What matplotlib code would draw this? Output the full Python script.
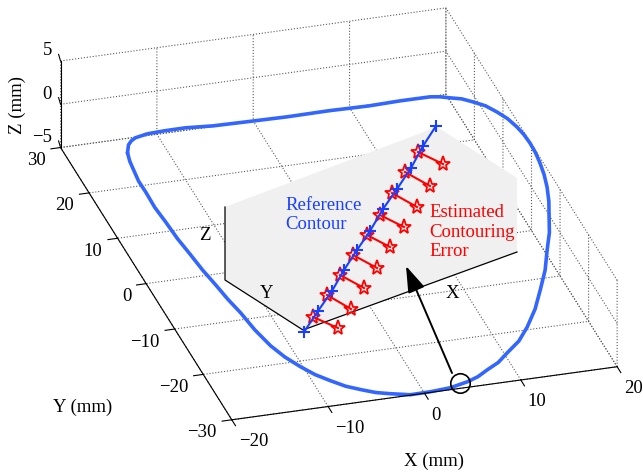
import numpy as np
import matplotlib
matplotlib.use("Agg")
import matplotlib.pyplot as plt
from mpl_toolkits.mplot3d import proj3d

plt.rcParams['font.family'] = ['Liberation Serif', 'DejaVu Serif']
plt.rcParams['grid.linestyle'] = ':'
plt.rcParams['grid.color'] = '#5a5a5a'
plt.rcParams['grid.linewidth'] = 0.8

# ---------------- data ----------------
# 3-D reference contour (mm)
curve_x = [-16.47, -15.94, -15.47, -14.96, -13.68, -11.98, -9.90, -7.22, -3.93, 0.12,
           4.24, 8.29, 11.42, 14.39, 15.27, 16.08, 17.03, 17.82, 18.65, 19.25,
           19.73, 20.00, 20.10, 20.07, 19.94, 19.67, 19.36, 18.90, 18.36, 17.67,
           16.91, 15.90, 14.77, 13.36, 12.25, 10.94, 10.20, 9.30, 8.13, 6.90,
           5.71, 4.53, 2.71, 0.66, -1.43, -3.27, -4.64, -5.90, -7.30, -8.53,
           -9.79, -10.87, -11.93, -12.78, -13.51, -14.03, -14.62, -15.10, -15.61, -16.00,
           -16.41, -16.67, -16.91, -16.93, -17.01, -16.86, -16.74]
curve_y = [18.46, 19.88, 20.45, 20.76, 20.88, 20.66, 20.33, 19.60, 19.14, 18.49,
           18.03, 17.37, 17.08, 16.62, 16.08, 15.33, 14.45, 13.17, 11.59, 9.58,
           7.49, 5.10, 3.00, 0.78, -1.62, -4.09, -6.60, -9.16, -11.61, -14.02,
           -16.70, -19.31, -22.43, -25.47, -27.42, -29.08, -28.64, -27.62, -28.44, -28.75,
           -29.45, -29.75, -29.96, -29.86, -29.91, -29.15, -28.68, -27.89, -27.09, -25.90,
           -24.76, -23.28, -21.41, -19.24, -16.21, -12.94, -10.42, -7.79, -4.98, -2.06,
           1.13, 4.45, 7.41, 10.57, 12.72, 15.02, 16.71]
curve_z = [-0.1, 0.0, 0.1, 0.2, 0.4, 0.6, 0.8, 1.0, 1.2, 1.5,
           1.8, 2.1, 2.35, 2.6, 2.75, 2.9, 3.1, 3.3, 3.55, 3.8,
           4.05, 4.3, 4.5, 4.7, 4.85, 5.0, 5.0, 5.0, 4.75, 4.5,
           4.0, 3.5, 3.0, 2.5, 1.5, 0.5, -1.25, -3.0, -3.5, -4.0,
           -4.25, -4.5, -4.8, -5.0, -5.0, -5.0, -4.9, -4.8, -4.6, -4.4,
           -4.1, -3.8, -3.5, -3.2, -2.85, -2.5, -2.15, -1.8, -1.5, -1.2,
           -0.95, -0.7, -0.55, -0.4, -0.3, -0.2, -0.15]
marked_point = [3.9, -29.4, -4.7]

x_lim = (-20, 20)
y_lim = (-30, 30)
z_lim = (-5, 5)
x_ticks = [-20, -10, 0, 10, 20]
y_ticks = [-30, -20, -10, 0, 10, 20, 30]
z_ticks = [-5, 0, 5]

# schematic inset (drawn in an overlay frame)
panel_x = [225, 437, 517, 517, 303, 225]
panel_y = [207, 127, 178, 252, 330, 280]
frame_x = [225, 225, 303, 517]
frame_y = [207, 280, 330, 252]
ref_x = [304, 318, 332, 344, 357, 370, 383, 397, 411, 423, 436]
ref_y = [332, 311, 291, 270, 250, 231, 209, 189, 168, 146, 126]
est_x = [338, 351, 364, 377, 390, 404, 417, 430, 443]
est_y = [328, 309, 288, 268, 247, 227, 207, 186, 164]
tip_x = [313, 327, 340, 353, 367, 380, 392, 405, 418]
tip_y = [317, 295, 275, 255, 235, 215, 193, 172, 152]
arrow_from = (452, 373)
arrow_to = (406, 266)

FS = 13.5
W, H = 643, 473
fig = plt.figure(figsize=(W / 100, H / 100), dpi=100)
ax = fig.add_axes([0, 0, 1, 1], projection='3d', proj_type='ortho')
ax.view_init(elev=27.9, azim=253.6)
ax.set_box_aspect((402, 607, 98))

# main curve
cx = np.append(curve_x, curve_x[0])
cy = np.append(curve_y, curve_y[0])
cz = np.append(curve_z, curve_z[0])
ax.plot(cx, cy, cz, color='#3366ff', lw=2.6, solid_capstyle='round',
        solid_joinstyle='round')
ax.plot([marked_point[0]], [marked_point[1]], [marked_point[2]], 'o', ms=14,
        mfc='none', mec='k', mew=1.2)

x0, x1 = x_lim
y0, y1 = y_lim
z0, z1 = z_lim
# axis lines (MATLAB style)
ax.plot([x0, x1], [y0, y0], [z0, z0], color='k', lw=0.8)
ax.plot([x0, x0], [y0, y1], [z0, z0], color='k', lw=0.8)
ax.plot([x0, x0], [y1, y1], [z0, z1], color='k', lw=0.8)
for t in x_ticks:
    ax.plot([t, t], [y0, y0 - 1.3], [z0, z0], color='k', lw=0.8)
for t in y_ticks:
    ax.plot([x0, x0 - 1.0], [t, t], [z0, z0], color='k', lw=0.8)
for t in z_ticks:
    ax.plot([x0, x0 + 0.21], [y1, y1 + 1.39], [t, t], color='k', lw=0.8)

ax.set_xlim(x_lim)
ax.set_ylim(y_lim)
ax.set_zlim(z_lim)
ax.set_xticks(x_ticks)
ax.set_yticks(y_ticks)
ax.set_zticks(z_ticks)
for axis in (ax.xaxis, ax.yaxis, ax.zaxis):
    axis.set_pane_color((1, 1, 1, 0))
    axis.line.set_visible(False)
    axis.set_tick_params(which='both', labelbottom=False, labeltop=False,
                         bottom=False, top=False)
    axis.label.set_visible(False)
    axis.offsetText.set_visible(False)
    axis._axinfo['tick']['inward_factor'] = 0
    axis._axinfo['tick']['outward_factor'] = 0
ax.grid(True)

# place the 3-D box so its corners land where the reference has them
fig.canvas.draw()
corners = np.array([[x0, y0, z0], [x1, y0, z0], [x0, y1, z0], [x0, y1, z1]], float)
target = np.array([[231, 420], [617, 367], [61, 148], [61, 60]], float)
target[:, 1] = H - target[:, 1]
M = ax.get_proj()

def to_px(pts):
    pts = np.asarray(pts, float)
    px, py, _ = proj3d.proj_transform(pts[:, 0], pts[:, 1], pts[:, 2], M)
    return ax.transData.transform(np.column_stack([px, py]))

p = to_px(corners)
bb = ax.get_position()
c0 = np.array([(bb.x0 + bb.x1) / 2 * W, (bb.y0 + bb.y1) / 2 * H])
S0 = bb.width * W
v = (p - c0) / S0
vm, tm = v.mean(0), target.mean(0)
S = np.sum((target - tm) * (v - vm)) / np.sum((v - vm) ** 2)
c = tm - S * vm
ax.set_position([(c[0] - S / 2) / W, (c[1] - S / 2) / H, S / W, S / H])

# tick labels, placed at the projected tick positions
def fmt(val):
    return ('\u2212%d' % (-val)) if val < 0 else '%d' % val

def tick_labels(points, labels, dx, dy, **kw):
    d = to_px(points)
    for (u, w), s in zip(d, labels):
        fig.text((u + dx) / W, (w + dy) / H, s, fontsize=FS, **kw)

tick_labels([[t, y0, z0] for t in x_ticks], [fmt(t) for t in x_ticks], 7, -22,
            ha='left', va='center')
tick_labels([[x0, t, z0] for t in y_ticks], [fmt(t) for t in y_ticks], -15, -13,
            ha='right', va='center')
tick_labels([[x0, y1, t] for t in z_ticks], [fmt(t) for t in z_ticks], -8.5, 10,
            ha='right', va='center')

# axis labels
fig.text(434 / W, 1 - 461 / H, 'X (mm)', ha='center', va='center', fontsize=FS)
fig.text(83 / W, 1 - 407 / H, 'Y (mm)', ha='center', va='center', fontsize=FS)
fig.text(17 / W, 1 - 105 / H, 'Z (mm)', ha='center', va='center', fontsize=FS, rotation=90)

# overlay schematic
ax2 = fig.add_axes([0, 0, 1, 1])
ax2.set_xlim(0, W)
ax2.set_ylim(H, 0)
ax2.axis('off')
ax2.set_zorder(5)
ax2.fill(panel_x, panel_y, color='#f0f0f0', lw=0)
ax2.plot(frame_x, frame_y, color='k', lw=0.9)
ax2.text(205, 235, 'Z', fontsize=FS, ha='center', va='center')
ax2.text(267, 293, 'Y', fontsize=FS, ha='center', va='center')
ax2.text(452, 293, 'X', fontsize=FS, ha='center', va='center')
for i in range(len(est_x)):
    ax2.plot([est_x[i], tip_x[i]], [est_y[i], tip_y[i]], color='#ff0000', lw=1.5,
             marker='*', ms=11, mfc='none', mec='#ff0000', mew=1.3)
ax2.plot(ref_x, ref_y, color='#1a40ff', lw=1.5, marker='+', ms=9, mew=1.5)
ax2.text(285, 215, 'Reference\nContour', color='#1a40ff', fontsize=FS,
         ha='left', va='center', linespacing=1.2)
ax2.text(429, 232, 'Estimated\nContouring\nError', color='#ff0000', fontsize=FS,
         ha='left', va='center', linespacing=1.2)
ax2.annotate('', xy=arrow_to, xytext=arrow_from,
             arrowprops=dict(arrowstyle='-|>,head_length=0.9,head_width=0.3',
                             color='k', lw=1.4, mutation_scale=18,
                             shrinkA=0, shrinkB=0))

fig.savefig('out.png', dpi=100)
